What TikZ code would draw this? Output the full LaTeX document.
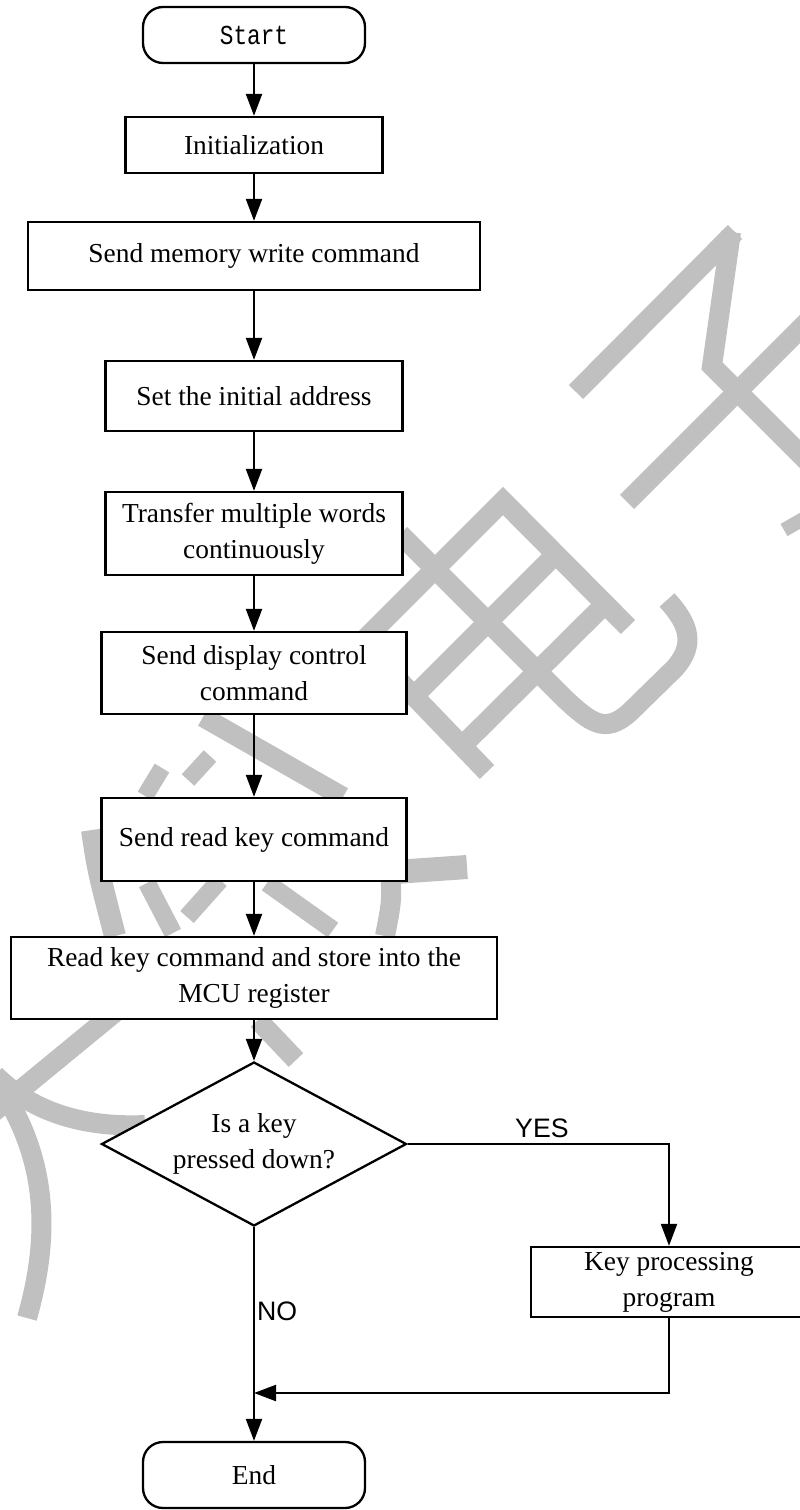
\documentclass[tikz,border=0pt]{standalone}
\usepackage{fontspec}
\setmainfont{Liberation Serif}
\newfontfamily\labelfont{Liberation Sans}
\newfontfamily\termfont[FakeStretch=0.83]{Liberation Mono}
\usetikzlibrary{arrows.meta,shapes.geometric}
\definecolor{wm}{HTML}{C0C0C0}
\begin{document}
\begin{tikzpicture}[x=1pt,y=-1pt,
  box/.style={draw=black,line width=2.3pt,fill=white,rectangle,inner sep=0pt,align=center,font=\fontsize{27.4}{36}\selectfont},
  term/.style={box,rounded corners=20pt},
  arr/.style={draw=black,line width=2.2pt,-{Triangle[length=22pt,width=16pt]}},
  lab/.style={font=\labelfont\fontsize{26.7}{30}\selectfont,inner sep=0pt},
  wmk/.style={draw=wm,line width=20pt,line join=miter}]
\useasboundingbox (0,0) rectangle (800,1510);
\clip (0,0) rectangle (800,1510);
% watermark
\draw[wmk] (576,392) -- (735,232);
\draw[wmk] (731,232) -- (712,366) -- (812,466);
\draw[wmk] (812,317) -- (627,502);
\draw[wmk,line width=14pt] (784,530) -- (805,518);
\draw[wmk] (362,642) -- (503,501) -- (628,627);
\draw[wmk] (556,554) -- (415,695);
\draw[wmk] (605,604) -- (464,744);
\draw[wmk] (362,642) -- (487,772);
\draw[wmk] (400,534) -- (565,699) .. controls (590,722) and (605,735) .. (630,712) -- (675,668) .. controls (695,645) and (690,625) .. (667,600);
\draw[wmk] (203,717) -- (343,797);
\draw[wmk,line width=17pt] (145,796) -- (162,768);
\draw[wmk,line width=17pt] (188,780) -- (210,756);
\draw[wmk,line width=22pt] (92,830) .. controls (98,870) .. (115,936);
\draw[wmk] (390,870) .. controls (392,900) .. (385,936);
\draw[wmk,line width=24pt] (395,872) -- (467,867);
\draw[wmk,line width=18pt] (147,883) -- (173,933);
\draw[wmk,line width=18pt] (187,917) -- (220,880);
\draw[wmk,line width=18pt] (267,883) -- (333,930);
\draw[wmk] (258,1020) -- (296,1060);
\draw[wmk] (130,1000) -- (-10,1115);
\draw[wmk] (-5,1075) .. controls (30,1110) and (80,1128) .. (145,1125);
\draw[wmk] (2,1090) .. controls (40,1150) and (55,1220) .. (27,1318);
% flowchart
\node[term,font=\termfont\fontsize{27.4}{36}\selectfont,minimum width=222pt,minimum height=56pt] (start) at (254,35) {Start};
\node[box,minimum width=257pt,minimum height=56pt] (init) at (254,145) {Initialization};
\node[box,minimum width=452pt,minimum height=68pt] (mem) at (254,256) {Send memory write command};
\node[box,minimum width=297pt,minimum height=70pt] (addr) at (254,396) {Set the initial address};
\node[box,minimum width=297pt,minimum height=83pt] (xfer) at (254,533.5) {Transfer multiple words\\continuously};
\node[box,minimum width=305pt,minimum height=82pt] (disp) at (254,673) {Send display control\\command};
\node[box,minimum width=305pt,minimum height=83pt] (rkey) at (254,839.5) {Send read key command};
\node[box,minimum width=486pt,minimum height=82pt] (store) at (254,978) {Read key command and store into the\\MCU register};
\node[box,diamond,aspect=1.86,minimum width=305pt,minimum height=164pt] (dec) at (254,1144) {Is a key\\pressed down?};
\node[box,minimum width=276pt,minimum height=70pt] (keyp) at (669,1282) {Key processing\\program};
\node[term,minimum width=222pt,minimum height=66pt] (end) at (254,1475) {End};
\coordinate (join) at (254,1393);
\draw[arr] (start) -- (init);
\draw[arr] (init) -- (mem);
\draw[arr] (mem) -- (addr);
\draw[arr] (addr) -- (xfer);
\draw[arr] (xfer) -- (disp);
\draw[arr] (disp) -- (rkey);
\draw[arr] (rkey) -- (store);
\draw[arr] (store) -- (dec);
\draw[arr] (dec.east) -| (keyp.north);
\draw[arr] (keyp.south) |- (join);
\draw[arr] (dec.south) -- (end.north);
\node[lab,anchor=base west] (yes) at (515,1137) {YES};
\node[lab,anchor=base west] (no) at (257,1320) {NO};
\end{tikzpicture}
\end{document}
